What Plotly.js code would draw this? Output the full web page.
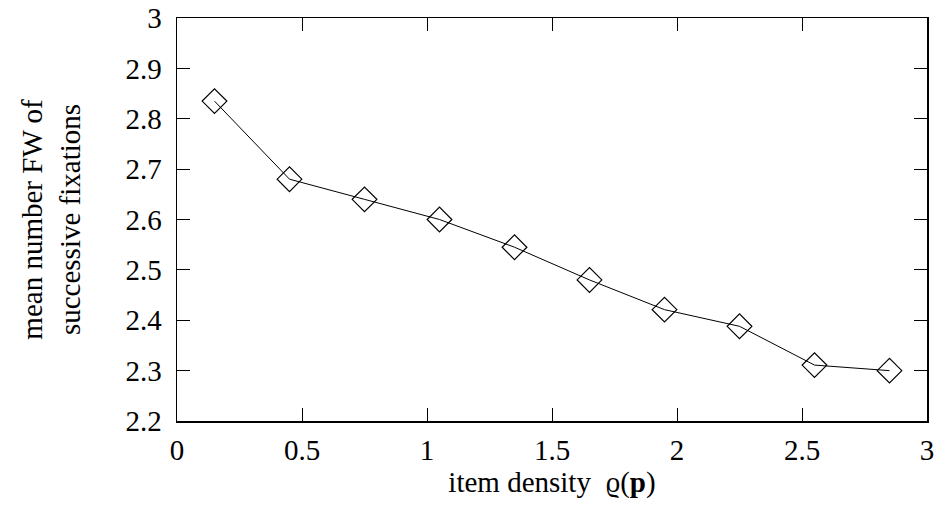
<!DOCTYPE html>
<html>
<head>
<meta charset="utf-8">
<script src="https://cdn.plot.ly/plotly-3.0.1.min.js"></script>
<style>html,body{margin:0;padding:0;background:#fff;}#chart{width:935px;height:514px;}</style>
</head>
<body>
<div id="chart"></div>
<script>
const density = [0.15, 0.45, 0.75, 1.05, 1.35, 1.65, 1.95, 2.25, 2.55, 2.85];
const meanFixations = [2.835, 2.68, 2.64, 2.60, 2.545, 2.48, 2.421, 2.388, 2.311, 2.300];
const xTicks = [0, 0.5, 1, 1.5, 2, 2.5, 3];
const yTicks = [2.2, 2.3, 2.4, 2.5, 2.6, 2.7, 2.8, 2.9, 3];

const fontFam = '"Liberation Serif", "DejaVu Serif", serif';

const trace = {
  x: density,
  y: meanFixations,
  mode: 'lines+markers',
  type: 'scatter',
  line: {color: '#000', width: 1},
  marker: {symbol: 'diamond-open', size: 19, color: '#000', line: {width: 1.2, color: '#000'}},
  showlegend: false
};

const layout = {
  width: 935, height: 514,
  margin: {l: 177, r: 8, t: 18, b: 93},
  paper_bgcolor: '#fff', plot_bgcolor: '#fff',
  font: {family: fontFam, size: 29, color: '#000'},
  xaxis: {
    range: [0, 3], tickvals: xTicks, ticktext: xTicks.map(String),
    ticks: 'inside', ticklen: 13, tickwidth: 1, tickcolor: '#000',
    showline: true, linecolor: '#000', linewidth: 1.5, mirror: 'ticks',
    showgrid: false, zeroline: false,
    tickfont: {family: fontFam, size: 29},
    ticklabelstandoff: 3,
    title: {text: 'item density&#160;&#160;ϱ(<b>p</b>)', font: {family: fontFam, size: 29}, standoff: 3}
  },
  yaxis: {
    range: [2.2, 3], tickvals: yTicks, ticktext: yTicks.map(String),
    ticks: 'inside', ticklen: 13, tickwidth: 1, tickcolor: '#000',
    showline: true, linecolor: '#000', linewidth: 1.5, mirror: 'ticks',
    showgrid: false, zeroline: false,
    tickfont: {family: fontFam, size: 29},
    ticklabelstandoff: 8,
    title: {text: 'mean number FW of<br>successive fixations', font: {family: fontFam, size: 29}, standoff: 36}
  }
};

Plotly.newPlot('chart', [trace], layout, {displayModeBar: false, staticPlot: true});
</script>
</body>
</html>
